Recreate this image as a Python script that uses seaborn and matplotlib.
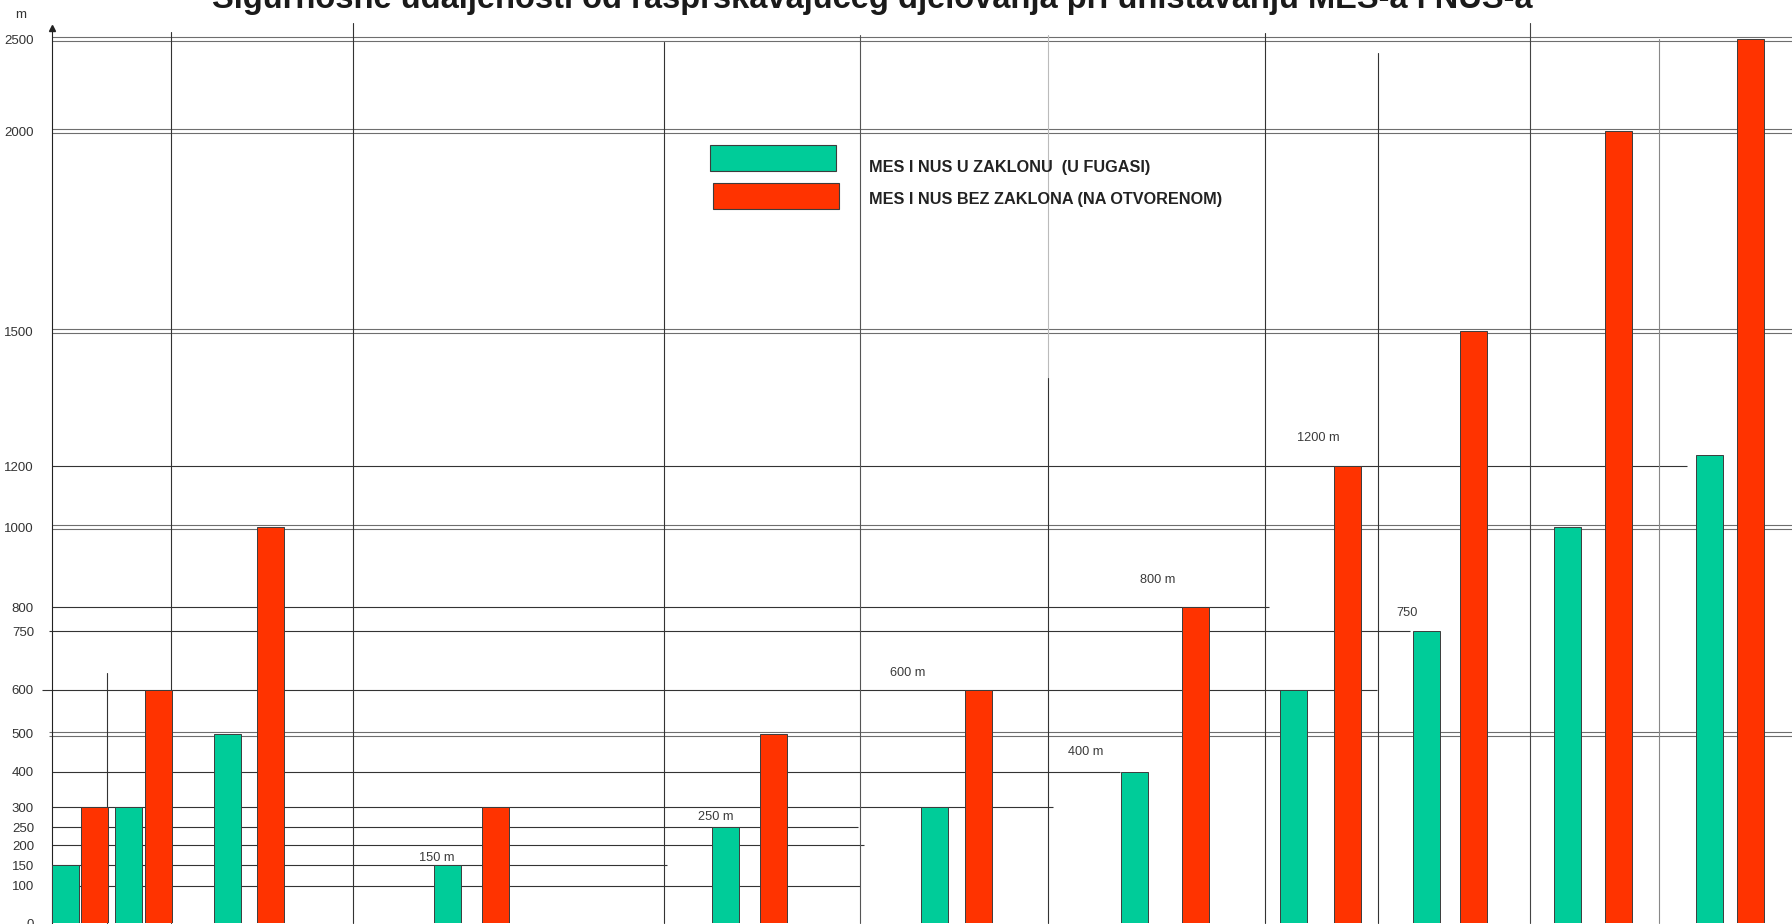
import numpy as np
import pandas as pd
import matplotlib
matplotlib.use("Agg")
import matplotlib.pyplot as plt
import matplotlib.transforms as mtransforms
from matplotlib.patches import Rectangle
import seaborn as sns

# ---------------- data ----------------
title = "Sigurnosne udaljenosti od rasprskavajućeg djelovanja pri uništavanju MES-a i NUS-a"
series_names = ["MES I NUS U ZAKLONU  (U FUGASI)", "MES I NUS BEZ ZAKLONA (NA OTVORENOM)"]
sheltered_m = [150, 300, 500, 150, 250, 300, 400, 600, 750, 1000, 1225]
open_m = [300, 600, 1000, 300, 500, 600, 800, 1200, 1500, 2000, 2500]
y_ticks = [0, 100, 150, 200, 250, 300, 400, 500, 600, 750, 800, 1000, 1200, 1500, 2000, 2500]
y_unit = "m"
annot_labels = ["150 m", "250 m", "600 m", "400 m", "800 m", "1200 m", "750"]
annot_series = [0, 0, 1, 0, 1, 1, 0]
annot_group = [3, 4, 5, 6, 6, 7, 8]

# ---------------- layout (pixel based) ----------------
W, H = 1792, 924
green_x = [65.2, 128.5, 227, 447.5, 725, 934.7, 1134.3, 1293.5, 1426, 1567, 1709]
red_x = [94, 158, 270.3, 495, 773, 978, 1195, 1347, 1473.3, 1618.5, 1750]
bar_px = 27
colors = {series_names[0]: "#00CC99", series_names[1]: "#FF3300"}
# hand-drawn (non linear) value axis of the original
knot_vals = [0, 100, 150, 200, 250, 300, 400, 500, 600, 750, 800, 1000, 1200, 1500, 2000, 2500, 2560]
knot_py = [923, 886, 865, 845, 827, 807, 772, 734, 690, 631, 607, 527, 466, 331, 131, 39, 28]
AX_BOTTOM, AX_TOP, AX_LEFT = 923, 28, 52
up = AX_BOTTOM - np.array(knot_py, dtype=float)

def fwd(v):
    return np.interp(v, knot_vals, up)

def inv(p):
    return np.interp(p, up, knot_vals)

sns.set_style("white")
sans = ["Liberation Sans", "DejaVu Sans"]
plt.rcParams["font.family"] = sans

fig = plt.figure(figsize=(W / 100, H / 100), dpi=100)
ax = fig.add_axes([AX_LEFT / W, (H - AX_BOTTOM) / H, (W - AX_LEFT) / W, (AX_BOTTOM - AX_TOP) / H])

df = pd.DataFrame({
    "x": green_x + red_x,
    "value": sheltered_m + open_m,
    "series": [series_names[0]] * len(sheltered_m) + [series_names[1]] * len(open_m),
})
native_w = np.min(np.diff(np.unique(df["x"].values)))
sns.barplot(data=df, x="x", y="value", hue="series", hue_order=series_names,
            palette=colors, saturation=1, native_scale=True, dodge=False,
            width=bar_px / native_w, errorbar=None, edgecolor="#3c3c3c",
            linewidth=0.7, legend=False, ax=ax, zorder=3)

ax.set_yscale("function", functions=(fwd, inv))

# ---------------- hand drawn grid lines ----------------
def hline(val, x0, x1, double=False):
    if double:
        for dy in (1.6, -1.6):
            tr = mtransforms.offset_copy(ax.transData, fig=fig, x=0, y=dy, units="dots")
            ax.plot([x0, x1], [val, val], color="#6e6e6e", lw=0.8, transform=tr,
                    clip_on=False, zorder=1, solid_capstyle="butt")
    else:
        ax.plot([x0, x1], [val, val], color="#333333", lw=0.8, clip_on=False, zorder=1,
                solid_capstyle="butt")

hl = [(2500, 52, 1792, True), (2000, 52, 1792, True), (1500, 52, 1792, True),
      (1200, 52, 1687, False), (1000, 52, 1792, True), (800, 52, 1269, False),
      (750, 49, 1410, False), (600, 42, 1377, False), (500, 49, 1792, True),
      (400, 52, 1120, False), (300, 52, 1053, False), (250, 52, 858, False),
      (200, 52, 864, False), (150, 52, 667, False), (100, 52, 860, False)]
for v, a, b, d in hl:
    hline(v, a, b, d)

xt = ax.get_xaxis_transform()
def vline(x, ptop, pbot=AX_BOTTOM, color="#333333"):
    y0 = (AX_BOTTOM - pbot) / (AX_BOTTOM - AX_TOP)
    y1 = (AX_BOTTOM - ptop) / (AX_BOTTOM - AX_TOP)
    ax.plot([x, x], [y0, y1], color=color, lw=0.8, transform=xt, clip_on=False, zorder=1)

for x, top, c in [(107, 673, "#333333"), (171, 32, "#333333"), (353, 23, "#333333"),
                  (664, 42, "#333333"), (860, 35, "#555555"), (1265, 33, "#333333"),
                  (1378, 53, "#333333"), (1530, 23, "#444444"), (1659, 39, "#888888")]:
    vline(x, top, color=c)
vline(1048, 35, 378, color="#bbbbbb")
vline(1048, 378, color="#333333")

# ---------------- axes styling ----------------
ax.set_xlim(AX_LEFT, W)
ax.set_ylim(0, 2560)
for s in ["top", "right", "bottom"]:
    ax.spines[s].set_visible(False)
ax.spines["left"].set_color("#222222")
ax.spines["left"].set_linewidth(0.8)
ax.plot([0], [1], marker="^", ms=5, color="#222222", transform=ax.transAxes,
        clip_on=False, zorder=5)
ax.set_xticks([])
ax.set_xlabel("")
ax.set_ylabel("")
ax.set_yticks(y_ticks)
ax.set_yticklabels([str(t) for t in y_ticks], fontfamily=sans, fontsize=9.5, color="#333333")
ax.tick_params(axis="y", length=0, pad=13)
ax.yaxis.set_minor_locator(matplotlib.ticker.NullLocator())

# value annotations
annot_offsets = [(-10.5, 7), (-9, 10), (-70, 17), (-49, 20), (-37, 27), (-29, 28), (-19, 18)]
xs = [green_x, red_x]
vs = [sheltered_m, open_m]
for lab, s, g, off in zip(annot_labels, annot_series, annot_group, annot_offsets):
    ax.annotate(lab, xy=(xs[s][g], vs[s][g]), xytext=off, textcoords="offset pixels",
                ha="center", va="center", fontfamily=sans, fontsize=9.2,
                color="#3a3a3a", zorder=6)

# unit label and title
fig.text(21 / W, 1 - 15 / H, y_unit, ha="center", va="center", fontfamily=sans,
         fontsize=9.5, color="#333333")
fig.text(872 / W, 1 - 8 / H, title, ha="center", va="baseline", fontsize=23.5,
         fontweight="bold", fontfamily=sans, color="#1a1a1a")

# legend (drawn like the original: wide swatches, bold captions)
leg_boxes = [(710, 145, 126, 26), (713, 183, 126, 26)]
leg_text_base = [172, 204]
for name, (lx, ly, lw_, lh), tb in zip(series_names, leg_boxes, leg_text_base):
    fig.patches.append(Rectangle((lx / W, 1 - (ly + lh) / H), lw_ / W, lh / H,
                                 transform=fig.transFigure, facecolor=colors[name],
                                 edgecolor="#3c3c3c", linewidth=0.8, zorder=4))
    fig.text(869 / W, 1 - tb / H, name, ha="left", va="baseline", fontsize=11.7,
             fontweight="bold", fontfamily=sans, color="#222222", zorder=5)

fig.savefig("out.png", dpi=100)
